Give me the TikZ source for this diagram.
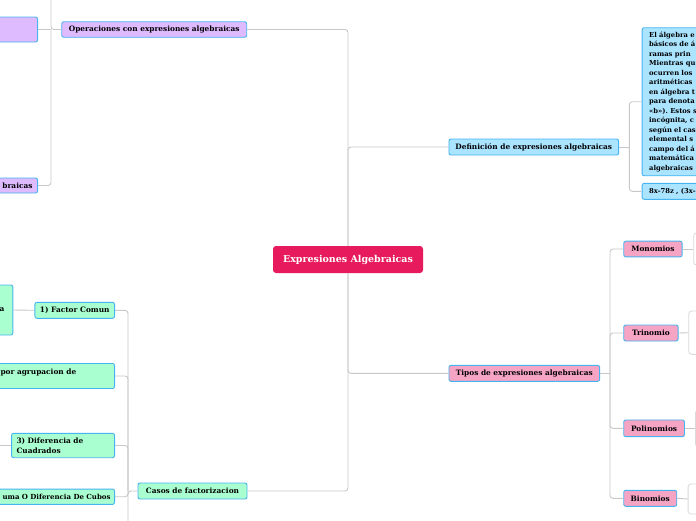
\documentclass[tikz,border=0pt]{standalone}
\usepackage{fontspec}
\setmainfont{DejaVu Serif}
\frenchspacing
\definecolor{rootred}{RGB}{230,26,92}
\definecolor{edgeblue}{RGB}{70,180,240}
\definecolor{linegray}{RGB}{200,200,200}
\definecolor{ghostgray}{RGB}{218,218,218}
\definecolor{opsfill}{RGB}{222,186,255}
\definecolor{deffill}{RGB}{170,228,255}
\definecolor{casfill}{RGB}{170,255,208}
\definecolor{tipfill}{RGB}{245,164,196}
\tikzset{
  topic/.style={draw=edgeblue, line width=0.9pt, rounded corners=2pt, inner xsep=5pt, inner ysep=1pt,
    font=\fontsize{7.4}{9.5}\selectfont\bfseries, text=black},
  opsbox/.style={topic, fill=opsfill},
  defbox/.style={topic, fill=deffill},
  casbox/.style={topic, fill=casfill},
  tipbox/.style={topic, fill=tipfill},
  ghost/.style={draw=ghostgray, fill=white, line width=0.8pt, rounded corners=3pt, minimum width=40pt},
  link/.style={draw=linegray, line width=0.9pt, rounded corners=3pt}
}
\begin{document}
\begin{tikzpicture}[x=1pt,y=-1pt]
        \clip (0,0) rectangle (696,520);
        \fill[white] (0,0) rectangle (696,520);

        % central topic
        \node[fill=rootred, text=white, rounded corners=3pt, minimum width=150pt, minimum height=27pt,
          font=\fontsize{9.5}{11}\selectfont\bfseries] (root) at (348,259.5) {Expresiones Algebraicas};

        % main branches
        \node[opsbox, minimum width=185pt, minimum height=15.5pt] (ops) at (154.2,29.5) {Operaciones con expresiones algebraicas};
        \node[defbox, minimum width=169.7pt, minimum height=16pt] (def) at (533.8,147) {Definición de expresiones algebraicas};
        \node[tipbox, minimum width=150.7pt, minimum height=16pt] (tipos) at (524.3,373.3) {Tipos de expresiones algebraicas};
        \node[casbox, minimum width=109pt, minimum height=16pt] (casos) at (192.5,491) {Casos de factorizacion};

        \draw[link] (root.north) |- (ops.east) ;
        \draw[link] (root.north) |- (def.west) ;
        \draw[link] (root.south) |- (tipos.west) ;
        \draw[link] (root.south) |- (casos.east) ;

        % operaciones
        \coordinate (opsj) at (51,29.5);
        \coordinate (opstop) at (51,-10);
        \node[opsbox, anchor=east, minimum width=80pt, minimum height=25pt] (op1) at (38,29.5) {};
        \node[opsbox, anchor=east, text width=70pt, align=right, minimum height=15pt] (op2) at (38,185.5) {braicas};
        \draw[link] (ops.west) -- (opsj) -- (opstop) ;
        \draw[link] (opsj) -- (op1.east) ;
        \draw[link] (opsj) |- (op2.east) ;

        % definicion
        \coordinate (defj) at (629.3,147);
        \node[defbox, anchor=north west, text width=120pt, align=left, minimum height=148pt, inner xsep=7pt,
          font=\fontsize{6.8}{9.5}\selectfont\bfseries] (defa) at (641.7,27.3)
          {El álgebra e\\básicos de á\\ramas prin\\Mientras qu\\ocurren los\\aritméticas\\en álgebra t\\para denota\\«b»). Estos s\\incógnita, c\\según el cas\\elemental s\\campo del á\\matemática\\algebraicas};
        \node[defbox, anchor=west, text width=120pt, align=left, minimum height=16pt, inner xsep=7pt,
          font=\fontsize{6.8}{9}\selectfont\bfseries] (defb) at (641.7,191.3) {8x-78z , (3x-};
        \draw[link] (def.east) -- (defj) ;
        \draw[link] (defj) |- (defa.west) ;
        \draw[link] (defj) |- (defb.west) ;

        % tipos
        \coordinate (tipj) at (610,373.3);
        \node[tipbox, anchor=west, minimum width=58.4pt, minimum height=15.7pt] (mono) at (623.3,249) {Monomios};
        \node[tipbox, anchor=west, minimum width=54.4pt, minimum height=16pt] (tri) at (623.3,333) {Trinomio};
        \node[tipbox, anchor=west, minimum width=60.7pt, minimum height=16.7pt] (poli) at (623.3,428.3) {Polinomios};
        \node[tipbox, anchor=west, minimum width=53pt, minimum height=16pt] (bino) at (623.3,498.3) {Binomios};
        \node[ghost, anchor=west, minimum height=32.3pt] (monob) at (693.3,249) {};
        \node[ghost, anchor=west, minimum height=43.3pt] (trib) at (688.3,332.7) {};
        \node[ghost, anchor=west, minimum height=36.7pt] (polib) at (695,428.3) {};
        \node[ghost, anchor=west, minimum height=30pt] (binob) at (687.7,499) {};
        \draw[link] (tipos.east) -- (tipj) ;
        \foreach \t in {mono,tri,poli,bino}
          \draw[link] (tipj) |- (\t.west) ;
        \draw[link] (mono.east) -- (monob.west) ;
        \draw[link] (tri.east) -- (trib.west) ;
        \draw[link] (poli.east) -- (polib.west) ;
        \draw[link] (bino.east) -- (binob.west) ;

        % casos de factorizacion
        \coordinate (casj) at (128,491);
        \coordinate (casbot) at (128,530);
        \coordinate (difl) at (-10,445.5);
        \node[casbox, anchor=east, minimum width=78.3pt, minimum height=16pt] (fc) at (115,310.3) {1) Factor Comun};
        \node[casbox, anchor=east, text width=40pt, align=right, minimum height=50pt] (fcn) at (13.3,310) {a\hspace*{3.5pt}};
        \node[casbox, anchor=east, text width=110pt, align=left, minimum height=25pt, inner xsep=4pt] (agr) at (115,376)
          {por agrupacion de\\\mbox{}};
        \node[casbox, anchor=east, text width=93pt, align=left, minimum height=24.4pt] (dif) at (115,445.5) {3) Diferencia de\\Cuadrados};
        \node[casbox, anchor=east, text width=140pt, align=right, minimum height=15.3pt, inner xsep=4pt,
          font=\fontsize{7}{9}\selectfont\bfseries] (cub) at (115,496.7) {uma O Diferencia De Cubos};
        \draw[link] (casos.west) -- (casj) -- (casbot) ;
        \foreach \c in {fc,agr,dif,cub}
          \draw[link] (casj) |- (\c.east) ;
        \draw[link] (fc.west) -- (fcn.east) ;
        \draw[link] (dif.west) -- (difl) ;
\end{tikzpicture}
\end{document}
